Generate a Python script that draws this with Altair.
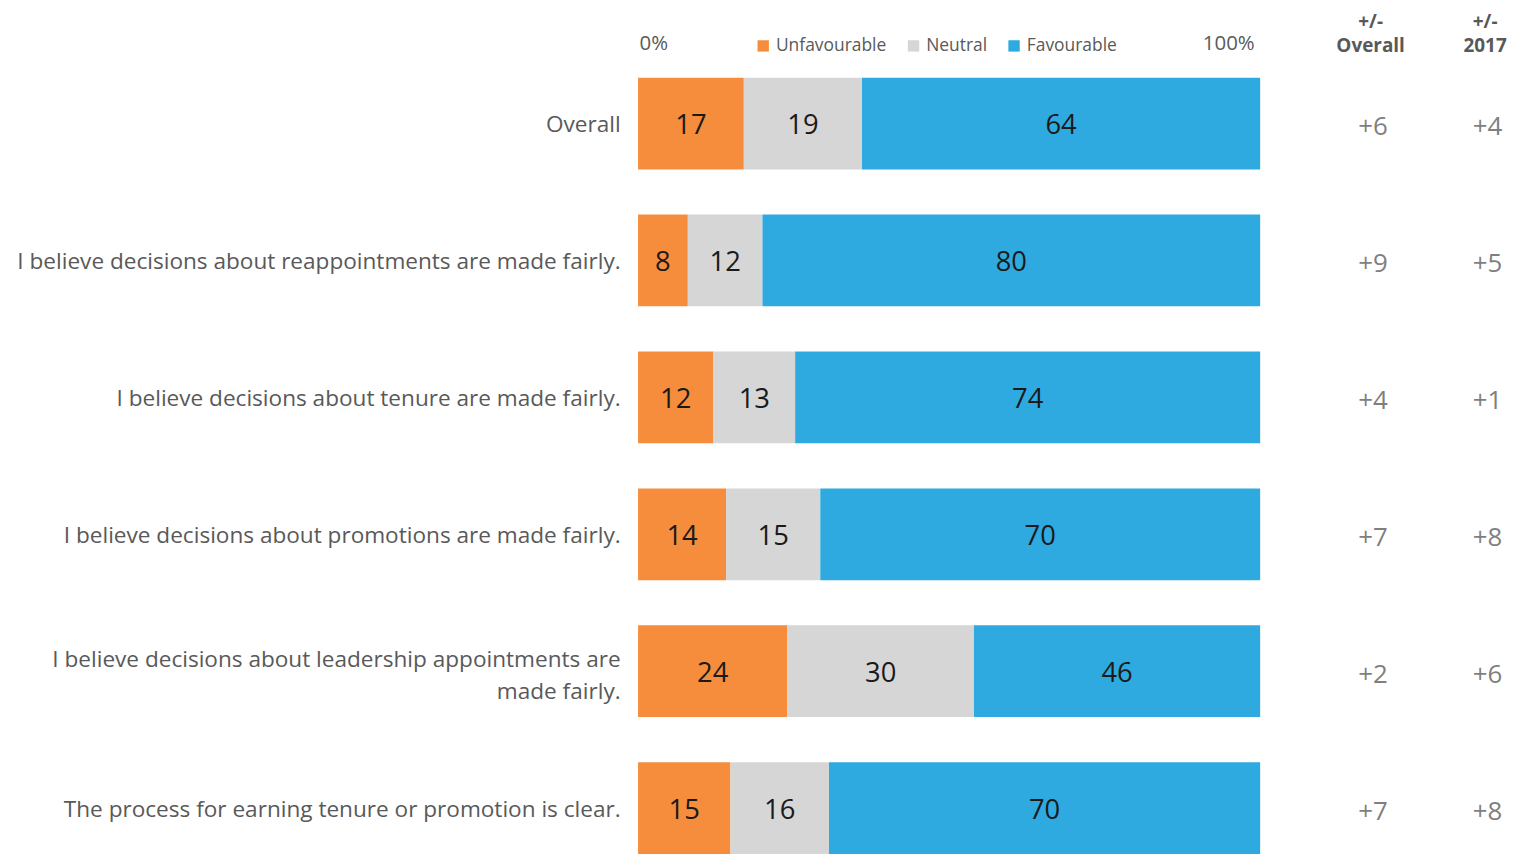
import altair as alt
import pandas as pd

questions = [
    "Overall",
    "I believe decisions about reappointments are made fairly.",
    "I believe decisions about tenure are made fairly.",
    "I believe decisions about promotions are made fairly.",
    "I believe decisions about leadership appointments are\nmade fairly.",
    "The process for earning tenure or promotion is clear.",
]
categories = ["Unfavourable", "Neutral", "Favourable"]
colors = ["#F58D3C", "#D6D6D6", "#2EAAE0"]
unfavourable = [17, 8, 12, 14, 24, 15]
neutral = [19, 12, 13, 15, 30, 16]
favourable = [64, 80, 74, 70, 46, 70]
delta_cols = ["+/-\nOverall", "+/-\n2017"]
delta_overall = [6, 9, 4, 7, 2, 7]
delta_2017 = [4, 5, 1, 8, 6, 8]

FONT = "Open Sans"
GREY = "#595959"

rows = []
for i, q in enumerate(questions):
    for j, (cat, vals) in enumerate(zip(categories, [unfavourable, neutral, favourable])):
        rows.append({"q": q, "cat": cat, "ord": j, "value": vals[i]})
df = pd.DataFrame(rows)

drows = []
for i, q in enumerate(questions):
    for col, vals in zip(delta_cols, [delta_overall, delta_2017]):
        drows.append({"q": q, "col": col, "d": vals[i]})
ddf = pd.DataFrame(drows)

yscale = alt.Scale(type="band", domain=questions, paddingInner=0.33, paddingOuter=0)

base = alt.Chart(df)

bars = base.mark_bar().encode(
    y=alt.Y("q:N", sort=questions, scale=yscale, title=None,
            axis=alt.Axis(labelExpr="split(datum.value, '\\n')", labelFontSize=22.7,
                          labelColor=GREY, labelFont=FONT, labelPadding=18,
                          labelLimit=700, ticks=False, domain=False,
                          labelLineHeight=32,
                          labelOffset=alt.ExprRef("indexof(datum.value, '\\n') >= 0 ? -11 : 2"))),
    x=alt.X("value:Q", stack="normalize", title=None,
            scale=alt.Scale(domain=[0, 1], nice=False),
            axis=alt.Axis(orient="top", values=[0, 1], format="%", grid=False,
                          ticks=False, domain=False, labelFontSize=20.5,
                          labelColor=GREY, labelFont=FONT, labelPadding=24.5,
                          labelOffset=alt.ExprRef("datum.value == 0 ? 1 : -6"),
                          labelAlign=alt.ExprRef("datum.value == 0 ? 'left' : 'right'"))),
    color=alt.Color("cat:N", scale=alt.Scale(domain=categories, range=colors), title=None,
                    legend=alt.Legend(orient="none", direction="horizontal",
                                      legendX=117, legendY=-41,
                                      symbolType="square", symbolSize=130,
                                      symbolStrokeWidth=0, symbolOpacity=1,
                                      labelFontSize=17.5, labelColor=GREY, labelFont=FONT,
                                      labelOffset=4, columnPadding=18)),
    order=alt.Order("ord:Q"),
)

labels = base.transform_joinaggregate(
    total="sum(value)", groupby=["q"]
).transform_window(
    cum="sum(value)", sort=[alt.SortField("ord")], groupby=["q"], frame=[None, 0]
).transform_calculate(
    mid="(datum.cum - datum.value / 2) / datum.total"
).mark_text(fontSize=27.5, font=FONT, color="#1a1a1a", dy=3).encode(
    y=alt.Y("q:N", sort=questions, scale=yscale, title=None),
    x=alt.X("mid:Q", title=None),
    text=alt.Text("value:Q"),
)

left = alt.layer(bars, labels).properties(width=625, height=780)

right = alt.Chart(ddf).mark_text(fontSize=26, font=FONT, color="#7F7F7F", dx=3, dy=4).transform_calculate(
    label="'+' + datum.d"
).encode(
    y=alt.Y("q:N", sort=questions, scale=yscale, axis=None),
    x=alt.X("col:N", sort=delta_cols, title=None,
            scale=alt.Scale(type="point", padding=0.152),
            axis=alt.Axis(orient="top", labelExpr="split(datum.value, '\\n')",
                          labelFontSize=19, labelFontWeight="bold", labelColor=GREY,
                          labelFont=FONT, labelPadding=46.5, labelLineHeight=24.5,
                          labelAngle=0, ticks=False, domain=False)),
    text="label:N",
).properties(width=150, height=780)

chart = alt.hconcat(left, right, spacing=76).configure(
    padding={"left": 8, "top": 2, "right": 0, "bottom": 0}
).configure_view(stroke=None)

chart.save("out.html", embed_options={"renderer": "svg", "actions": False})
